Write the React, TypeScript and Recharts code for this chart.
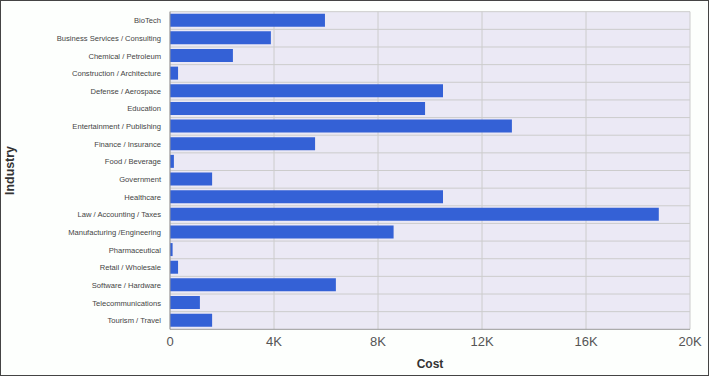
import React from 'react';
import { BarChart, Bar, XAxis, YAxis, CartesianGrid } from 'recharts';

const industries = [
  'BioTech',
  'Business Services / Consulting',
  'Chemical / Petroleum',
  'Construction / Architecture',
  'Defense / Aerospace',
  'Education',
  'Entertainment / Publishing',
  'Finance / Insurance',
  'Food / Beverage',
  'Government',
  'Healthcare',
  'Law / Accounting / Taxes',
  'Manufacturing /Engineering',
  'Pharmaceutical',
  'Retail / Wholesale',
  'Software / Hardware',
  'Telecommunications',
  'Tourism / Travel',
];

const costs = [5960, 3880, 2420, 310, 10500, 9810, 13150, 5580, 150, 1620, 10500, 18800, 8600, 100, 310, 6380, 1150, 1620];

const xTicks = [0, 4000, 8000, 12000, 16000, 20000];
const xTickLabels = ['0', '4K', '8K', '12K', '16K', '20K'];

const data = industries.map((name, i) => ({ name, cost: costs[i] }));

const FONT = '"Liberation Sans", Arial, sans-serif';

const CostLabel = (props: any) => {
  const vb = props.viewBox || {};
  return (
    <text x={vb.x + vb.width / 2} y={vb.y + vb.height - 7} textAnchor="middle" fontFamily={FONT} fontSize={12} fontWeight="bold" fill="#333">
      Cost
    </text>
  );
};

const IndustryLabel = (props: any) => {
  const vb = props.viewBox || {};
  const cy = vb.y + vb.height / 2;
  const x = 13;
  return (
    <text x={x} y={cy} transform={`rotate(-90 ${x} ${cy})`} textAnchor="middle" fontFamily={FONT} fontSize={12.4} fontWeight="bold" fill="#333">
      Industry
    </text>
  );
};

const CategoryTick = (props: any) => {
  const { x, y, payload } = props;
  return (
    <text x={x} y={y} dy="0.355em" textAnchor="end" fontFamily={FONT} fontSize={7.6} fill="#444">
      {payload.value}
    </text>
  );
};

const ValueTick = (props: any) => {
  const { x, y, payload } = props;
  return (
    <text x={x} y={y} dy="0.71em" textAnchor="middle" fontFamily={FONT} fontSize={13} fill="#555">
      {xTickLabels[xTicks.indexOf(payload.value)]}
    </text>
  );
};

export default function App() {
  return (
    <div
      style={{
        position: 'absolute',
        left: 0,
        top: 0,
        width: 709,
        height: 376,
        border: '1px solid #444',
        boxSizing: 'border-box',
        background: '#fdfffd',
      }}
    >
      <BarChart
        width={707}
        height={374}
        data={data}
        layout="vertical"
        margin={{ top: 10.7, right: 18, bottom: 0, left: 0 }}
      >
        <CartesianGrid
          fill="#ebe9f5"
          stroke="#cccccc"
          strokeWidth={1}
          horizontalCoordinatesGenerator={({ offset }: any) =>
            industries.map((_, i) => offset.top + (i * offset.height) / industries.length)
          }
        />
        <XAxis
          type="number"
          domain={[0, 20000]}
          ticks={xTicks}
          interval={0}
          height={45.7}
          axisLine={{ stroke: '#999' }}
          tickLine={false}
          tickSize={0}
          tickMargin={7}
          tick={<ValueTick />}
          label={<CostLabel />}
        />
        <YAxis
          type="category"
          dataKey="name"
          width={169}
          interval={0}
          axisLine={{ stroke: '#999' }}
          tickLine={false}
          tickSize={0}
          tickMargin={9}
          tick={<CategoryTick />}
          label={<IndustryLabel />}
        />
        <Bar dataKey="cost" fill="#3461d6" barSize={13} isAnimationActive={false} />
      </BarChart>
    </div>
  );
}
